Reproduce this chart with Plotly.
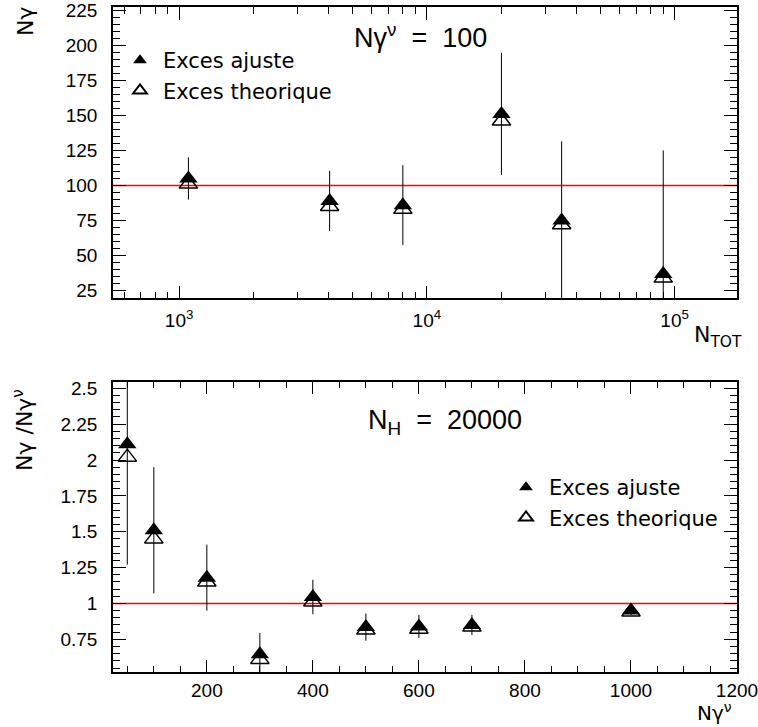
import plotly.graph_objects as go

# ---- top panel data (N_gamma^nu = 100) ----
ntot = [1090, 4050, 8000, 20000, 35000, 90000]
ng_fit = [105, 89, 86, 151, 75, 37]
ng_fit_err = [15, 21.5, 28.5, 43.5, 56.5, 88]
ng_theo = [101, 85, 83, 146, 72, 34]

# ---- bottom panel data (N_H = 20000) ----
ngnu = [50, 100, 200, 300, 400, 500, 600, 700, 1000]
ratio_fit = [2.11, 1.51, 1.18, 0.645, 1.045, 0.835, 0.84, 0.85, 0.95]
ratio_fit_err = [0.84, 0.44, 0.23, 0.15, 0.12, 0.095, 0.08, 0.07, 0.03]
ratio_theo = [2.02, 1.45, 1.15, 0.61, 1.01, 0.815, 0.82, 0.835, 0.94]

top_ticks = [1e3, 1e4, 1e5]
top_ticktext = ["10<sup>3</sup>", "10<sup>4</sup>", "10<sup>5</sup>"]
top_minor = [600, 700, 800, 900,
             2000, 3000, 4000, 5000, 6000, 7000, 8000, 9000,
             20000, 30000, 40000, 50000, 60000, 70000, 80000, 90000]

FONT = "DejaVu Sans"
TICKFONT = "Liberation Sans"
W, H = 758, 727
MSIZE = 16

fig = go.Figure()

# top panel
fig.add_trace(go.Scatter(x=ntot, y=ng_theo, mode="markers", name="Exces theorique",
                         marker=dict(symbol="triangle-up-open", size=MSIZE, color="black",
                                     line=dict(width=1.5, color="black")),
                         xaxis="x", yaxis="y", legend="legend", legendgroup="b", legendrank=2))
fig.add_trace(go.Scatter(x=ntot, y=ng_fit, mode="markers", name="Exces ajuste",
                         error_y=dict(type="data", array=ng_fit_err, width=0, thickness=1, color="black"),
                         marker=dict(symbol="triangle-up", size=MSIZE, color="black"),
                         xaxis="x", yaxis="y", legend="legend", legendgroup="a", legendrank=1))

# bottom panel
fig.add_trace(go.Scatter(x=ngnu, y=ratio_theo, mode="markers", name="Exces theorique",
                         marker=dict(symbol="triangle-up-open", size=MSIZE, color="black",
                                     line=dict(width=1.5, color="black")),
                         xaxis="x2", yaxis="y2", legend="legend2", legendgroup="d", legendrank=2))
fig.add_trace(go.Scatter(x=ngnu, y=ratio_fit, mode="markers", name="Exces ajuste",
                         error_y=dict(type="data", array=ratio_fit_err, width=0, thickness=1, color="black"),
                         marker=dict(symbol="triangle-up", size=MSIZE, color="black"),
                         xaxis="x2", yaxis="y2", legend="legend2", legendgroup="c", legendrank=1))

xdom = [113 / W, 737 / W]
axis_common = dict(showline=True, linecolor="black", linewidth=1.5, mirror="ticks",
                   ticks="inside", ticklen=13, tickcolor="black", tickwidth=1,
                   showgrid=False, zeroline=False, ticklabeloverflow="allow",
                   automargin=False,
                   tickfont=dict(family=TICKFONT, size=19, color="black"))
minor_common = dict(ticks="inside", ticklen=7, tickcolor="black", showgrid=False)

legend_common = dict(xanchor="left", yanchor="top", bgcolor="rgba(0,0,0,0)",
                     itemsizing="constant", tracegroupgap=0, itemwidth=36,
                     font=dict(family=FONT, size=21, color="black"))

fig.update_layout(
    width=W, height=H, autosize=False,
    margin=dict(l=0, r=0, t=0, b=0, pad=0, autoexpand=False),
    paper_bgcolor="white", plot_bgcolor="white",
    font=dict(family=FONT, color="black"),
    xaxis=dict(type="log", domain=xdom, range=[2.733, 5.252], anchor="y",
               tickvals=top_ticks, ticktext=top_ticktext, ticklabelstandoff=4,
               minor=dict(tickmode="array", tickvals=top_minor, **minor_common),
               **axis_common),
    yaxis=dict(domain=[1 - 298.3 / H, 1 - 7.3 / H], range=[19.6, 227], anchor="x",
               tickvals=[25, 50, 75, 100, 125, 150, 175, 200, 225], ticklabelstandoff=10,
               minor=dict(dtick=5, **minor_common),
               **axis_common),
    xaxis2=dict(domain=xdom, range=[23, 1200], anchor="y2",
                tickvals=[200, 400, 600, 800, 1000, 1200], ticklabelstandoff=0,
                minor=dict(dtick=50, tick0=0, **minor_common),
                **axis_common),
    yaxis2=dict(domain=[1 - 672.3 / H, 1 - 381.7 / H], range=[0.52, 2.546], anchor="x2",
                tickvals=[0.75, 1, 1.25, 1.5, 1.75, 2, 2.25, 2.5],
                ticktext=["0.75", "1", "1.25", "1.5", "1.75", "2", "2.25", "2.5"],
                ticklabelstandoff=10,
                minor=dict(dtick=0.05, tick0=0, **minor_common),
                **axis_common),
    legend=dict(x=117 / W, y=1 - 40 / H, **legend_common),
    legend2=dict(x=503 / W, y=1 - 467 / H, **legend_common),
    showlegend=True,
)

# reference lines
fig.add_shape(type="line", xref="x domain", yref="y", x0=0, x1=1, y0=100, y1=100,
              line=dict(color="red", width=1.5), layer="below")
fig.add_shape(type="line", xref="x2 domain", yref="y2", x0=0, x1=1, y0=1, y1=1,
              line=dict(color="red", width=1.5), layer="below")

ann_font = dict(family="Liberation Sans", size=27, color="black")
title_font = dict(family=FONT, size=22, color="black")


def ann(text, x, y, font, xanchor="center", yanchor="middle", angle=0):
    fig.add_annotation(text=text, x=x / W, y=1 - y / H, xref="paper", yref="paper",
                       xanchor=xanchor, yanchor=yanchor, textangle=angle,
                       showarrow=False, font=font)


ann("Nγ<sup>ν</sup> \u00a0=\u00a0 100", 420, 36, ann_font)
ann("N<sub>H</sub> \u00a0=\u00a0 20000", 445, 422, ann_font)
ann("Nγ", 25, 22, title_font, angle=-90)
ann("N<sub>TOT</sub>", 718, 336, title_font)
ann("Nγ /Nγ<sup>ν</sup>", 23, 430, title_font, angle=-90)
ann("Nγ<sup>ν</sup>", 714, 727, dict(family=FONT, size=20, color="black"), yanchor="bottom")

fig.write_html("out.html", post_script="document.body.style.margin='0px';",
               config={"displayModeBar": False})
